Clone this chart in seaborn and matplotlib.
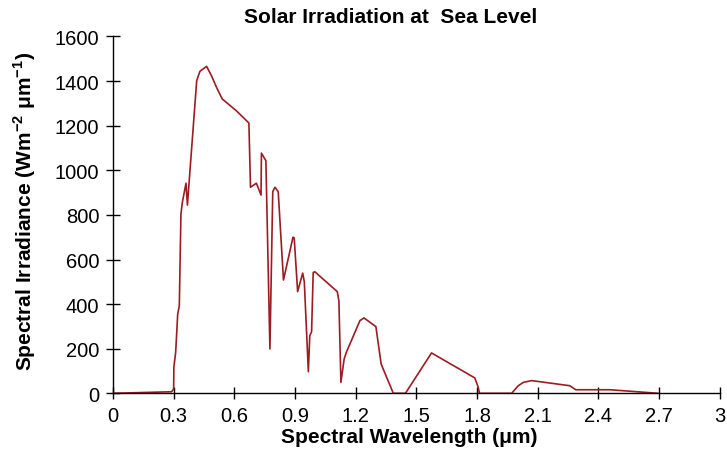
import matplotlib
matplotlib.use("Agg")
import matplotlib.pyplot as plt
import seaborn as sns
import pandas as pd

wavelength = [0, 0.29, 0.30, 0.301, 0.31, 0.32, 0.328, 0.336, 0.343, 0.361, 0.368,
              0.414, 0.430, 0.463, 0.487, 0.512, 0.540, 0.610, 0.672, 0.680, 0.709,
              0.732, 0.734, 0.756, 0.776, 0.790, 0.801, 0.817, 0.843, 0.890, 0.896,
              0.913, 0.938, 0.946, 0.966, 0.973, 0.982, 0.990, 0.998, 1.109, 1.117,
              1.127, 1.143, 1.154, 1.221, 1.241, 1.300, 1.326, 1.386, 1.446, 1.575,
              1.789, 1.806, 1.812, 1.971, 2.004, 2.029, 2.070, 2.259, 2.288, 2.457, 2.696]
irradiance = [0, 7, 19, 117, 184, 355, 393, 804, 856, 942, 844,
              1402, 1444, 1466, 1424, 1372, 1320, 1267, 1212, 924, 942,
              889, 1077, 1043, 199, 905, 924, 904, 508, 700, 697,
              456, 539, 500, 97, 258, 276, 542, 545, 456, 415,
              49, 154, 184, 326, 338, 299, 131, 0, 0, 181,
              69, 27, 0, 0, 34, 49, 57, 34, 16, 16, 0]
x_ticks = [0, 0.3, 0.6, 0.9, 1.2, 1.5, 1.8, 2.1, 2.4, 2.7, 3]
x_tick_labels = ["0", "0.3", "0.6", "0.9", "1.2", "1.5", "1.8", "2.1", "2.4", "2.7", "3"]
y_ticks = [0, 200, 400, 600, 800, 1000, 1200, 1400, 1600]

df = pd.DataFrame({"wl": wavelength, "irr": irradiance})

sns.set_style("white")
plt.rcParams["font.family"] = ["Liberation Sans", "DejaVu Sans"]
plt.rcParams["text.color"] = "black"
plt.rcParams["axes.labelcolor"] = "black"
plt.rcParams["xtick.color"] = "black"
plt.rcParams["ytick.color"] = "black"
plt.rcParams["mathtext.fontset"] = "custom"
plt.rcParams["mathtext.rm"] = "Liberation Sans"
plt.rcParams["mathtext.bf"] = "Liberation Sans:bold"

fig = plt.figure(figsize=(7.27, 4.60), dpi=100)
ax = fig.add_axes([0.1554, 0.1428, 0.8346, 0.7757])
sns.lineplot(data=df, x="wl", y="irr", sort=False, estimator=None,
             color="#9c1c22", linewidth=1.2, ax=ax)

ax.set_xlim(0, 3)
ax.set_ylim(0, 1600)
ax.set_xticks(x_ticks)
ax.set_xticklabels(x_tick_labels)
ax.set_yticks(y_ticks)
ax.tick_params(axis="x", bottom=True, direction="inout", length=8, width=1,
               color="black", labelsize=14.5, pad=5)
ax.tick_params(axis="y", left=True, direction="inout", length=10, width=1,
               color="black", labelsize=14.5, pad=4.8)
for s in ["top", "right"]:
    ax.spines[s].set_visible(False)
for s in ["left", "bottom"]:
    ax.spines[s].set_color("black")
    ax.spines[s].set_linewidth(1)

ax.set_xlabel("")
ax.set_ylabel("")
fig.text(409 / 727, 1 - 443 / 460, "Spectral Wavelength (\u03bcm)", ha="center",
         va="baseline", fontsize=15, fontweight="bold")
fig.text(25 / 727, 1 - 211 / 460,
         "Spectral Irradiance (Wm$^{\\mathbf{-2}}$ \u03bcm$^{\\mathbf{-1}}$)",
         ha="center", va="center", rotation=90, fontsize=15, fontweight="bold")
fig.text(391 / 727, 1 - 23.3 / 460, "Solar Irradiation at  Sea Level", ha="center",
         va="baseline", fontsize=15, fontweight="bold")

fig.savefig("out.png", dpi=100)
